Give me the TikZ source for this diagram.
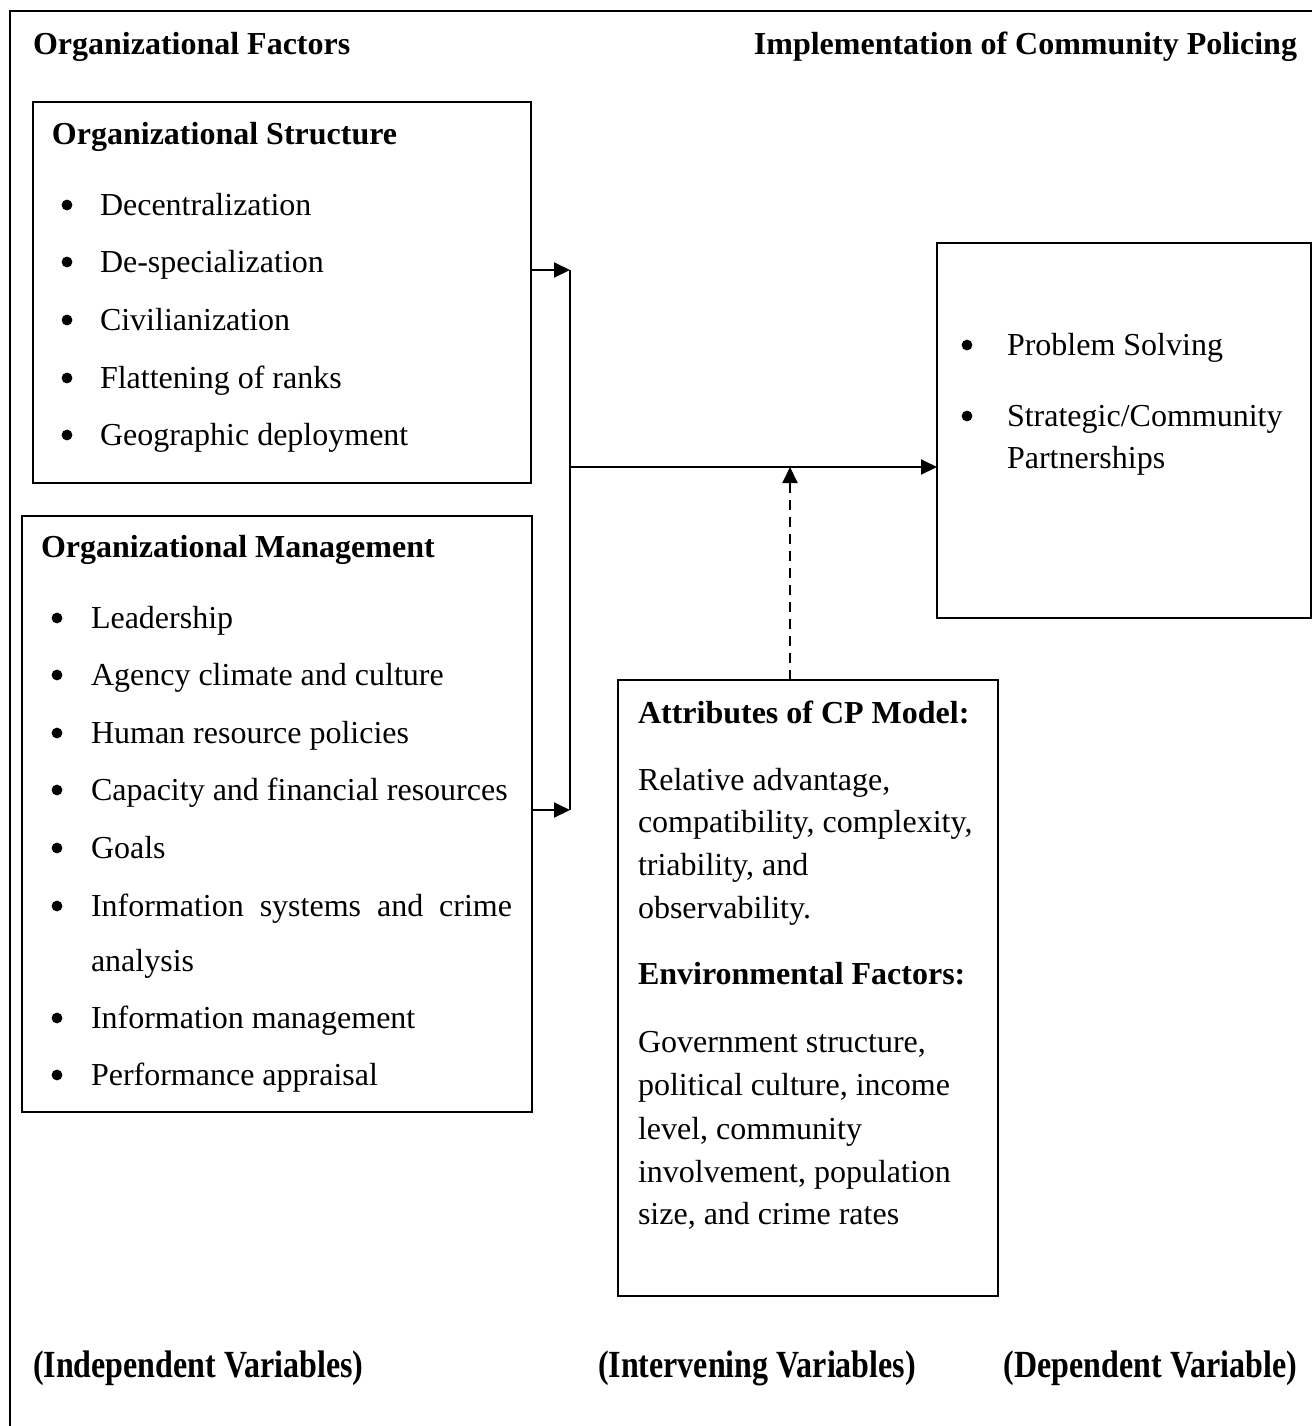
\documentclass[tikz,border=0pt]{standalone}
\usepackage{fontspec}
\usepackage{graphicx}
\setmainfont{Liberation Serif}
\usetikzlibrary{arrows.meta}
\begin{document}
\begin{tikzpicture}[x=0.5pt,y=-0.5pt,
  every node/.style={inner sep=0pt,outer sep=0pt,font=\fontsize{16}{19}\selectfont},
  box/.style={draw,line width=1pt,rectangle,anchor=north west},
  txt/.style={anchor=base west},
  hd/.style={anchor=base west,font=\fontsize{16}{19}\selectfont\bfseries},
  arr/.style={line width=1pt,-{Triangle[length=8pt,width=7.5pt]}},
  bul/.style={fill=black}]
\useasboundingbox (0,0) rectangle (1312,1426);
% outer frame (partly cut off)
\draw[line width=1pt] (10,1430) -- (10,11) -- (1316,11);
% headings
\node[hd] (hleft) at (33,54) {Organizational Factors};
\node[hd,anchor=base east] (hright) at (1297,54) {Implementation of Community Policing};
% boxes
\node[box,minimum width=249pt,minimum height=190.5pt] (s) at (33,102) {};
\node[box,minimum width=255pt,minimum height=298pt] (m) at (22,516) {};
\node[box,minimum width=187pt,minimum height=187.5pt] (d) at (937,243) {};
\node[box,minimum width=190pt,minimum height=308pt] (a) at (618,680) {};
% structure box
\node[hd] (st) at (52,144) {Organizational Structure};
\foreach \t/\y [count=\i] in {Decentralization/215,De-specialization/272,Civilianization/330,Flattening of ranks/388,Geographic deployment/445}{
  \fill[bul] (67,\y-10) circle[radius=2.7pt];
  \node[txt] (s\i) at (100,\y) {\t};
}
% management box
\node[hd] (mt) at (41,557) {Organizational Management};
\foreach \t/\y [count=\i] in {Leadership/628,Agency climate and culture/685,Human resource policies/743,Capacity and financial resources/800,Goals/858,Information management/1028,Performance appraisal/1085}{
  \fill[bul] (57,\y-10) circle[radius=2.7pt];
  \node[txt] (m\i) at (91,\y) {\t};
}
\fill[bul] (57,916-10) circle[radius=2.7pt];
\node[txt] (m8) at (91,916) {\makebox[210.5pt][s]{Information systems and crime}};
\node[txt] (m9) at (91,971) {analysis};
% dependent box
\fill[bul] (967,355-10) circle[radius=2.7pt];
\node[txt] (d1) at (1007,355) {Problem Solving};
\fill[bul] (967,426-10) circle[radius=2.7pt];
\node[txt] (d2) at (1007,426) {Strategic/Community};
\node[txt] (d3) at (1007,468) {Partnerships};
% attributes box
\node[hd] (at) at (638,723) {Attributes of CP Model:};
\node[txt] (a1) at (638,790) {Relative advantage,};
\node[txt] (a2) at (638,832) {compatibility, complexity,};
\node[txt] (a3) at (638,875) {triability, and};
\node[txt] (a4) at (638,918) {observability.};
\node[hd] (et) at (638,984) {Environmental Factors:};
\node[txt] (e1) at (638,1052) {Government structure,};
\node[txt] (e2) at (638,1095) {political culture, income};
\node[txt] (e3) at (638,1139) {level, community};
\node[txt] (e4) at (638,1182) {involvement, population};
\node[txt] (e5) at (638,1224) {size, and crime rates};
% bottom labels
\node[anchor=base west] (b1) at (33,1377) {\scalebox{1}[1.2]{\bfseries (Independent Variables)}};
\node[anchor=base west] (b2) at (598,1377) {\scalebox{1}[1.2]{\bfseries (Intervening Variables)}};
\node[anchor=base east] (b3) at (1297,1377) {\scalebox{1}[1.2]{\bfseries (Dependent Variable)}};
% connectors
\coordinate (j1) at (570,270);
\coordinate (j2) at (570,810);
\coordinate (jm) at (570,467);
\draw[line width=1pt] (j1) -- (j2);
\draw[arr] (j1 -| s.east) -- (j1);
\draw[arr] (j2 -| m.east) -- (j2);
\draw[arr] (jm) -- (jm -| d.west);
\coordinate (jd) at (790,467);
\draw[arr,dash pattern=on 5pt off 3.5pt] (a.north -| jd) -- (jd);
\end{tikzpicture}
\end{document}
